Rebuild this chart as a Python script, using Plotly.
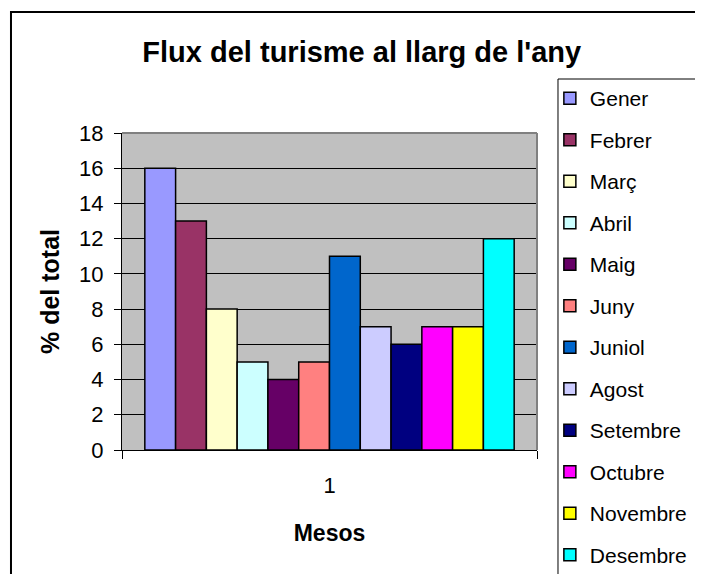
import plotly.graph_objects as go

months = ["Gener", "Febrer", "Març", "Abril", "Maig", "Juny", "Juniol",
          "Agost", "Setembre", "Octubre", "Novembre", "Desembre"]
values = [16, 13, 8, 5, 4, 5, 11, 7, 6, 7, 7, 12]
colors = ["#9999FF", "#993366", "#FFFFCC", "#CCFFFF", "#660066", "#FF8080",
          "#0066CC", "#CCCCFF", "#000080", "#FF00FF", "#FFFF00", "#00FFFF"]
category = ["1"]
y_ticks = list(range(0, 19, 2))

FONT = "Liberation Sans, Arial, sans-serif"

fig = go.Figure()
for m, v, c in zip(months, values, colors):
    fig.add_trace(go.Bar(
        x=category, y=[v], name=m, legendgroup=m,
        marker=dict(color=c, line=dict(color="black", width=1.5)),
    ))

fig.update_layout(
    width=695, height=566,
    margin=dict(l=114, r=166, t=125, b=124, autoexpand=False),
    paper_bgcolor="white",
    plot_bgcolor="#C0C0C0",
    barmode="group",
    bargap=0.11,
    bargroupgap=0,
    font=dict(family=FONT, color="black", size=22),
    title=dict(text="<b>Flux del turisme al llarg de l'any</b>",
               x=0.509, xanchor="center", y=0.922, yanchor="middle",
               font=dict(family=FONT, size=29, color="black")),
    legend=dict(x=1.031, xanchor="left", y=1.1735, yanchor="top",
                borderwidth=0, bgcolor="rgba(0,0,0,0)",
                font=dict(family=FONT, size=21, color="black"),
                tracegroupgap=11.2, itemwidth=30, maxheight=700),
    showlegend=True,
    xaxis=dict(type="category", tickson="boundaries", ticks="outside",
               ticklen=8, tickcolor="black", showline=True, linecolor="black",
               linewidth=1, showgrid=False, ticklabelstandoff=16,
               tickfont=dict(size=22),
               title=dict(text="<b>Mesos</b>", standoff=27,
                          font=dict(family=FONT, size=23))),
    yaxis=dict(range=[0, 18], tickvals=y_ticks, ticks="outside", ticklen=7,
               tickcolor="black", showline=True, linecolor="black",
               linewidth=1, showgrid=True, gridcolor="black", gridwidth=1,
               zeroline=False, ticklabelstandoff=6,
               tickfont=dict(size=22),
               title=dict(text="<b>% del total</b>", standoff=12,
                          font=dict(family=FONT, size=25))),
    shapes=[
        dict(type="line", xref="paper", yref="paper", x0=0, x1=1, y0=1, y1=1,
             line=dict(color="#808080", width=2), layer="above"),
        dict(type="line", xref="paper", yref="paper", x0=1, x1=1, y0=0, y1=1,
             line=dict(color="#808080", width=2), layer="above"),
        # legend frame (extends past the page edge like the original)
        dict(type="rect", xref="paper", yref="paper",
             x0=1.0506, x1=1.7, y0=-0.6, y1=1.1703,
             line=dict(color="black", width=1), layer="above"),
        # outer chart border
        dict(type="rect", xref="paper", yref="paper",
             x0=-0.2675, x1=1.6, y0=-0.5, y1=1.3817,
             line=dict(color="black", width=2), layer="above"),
    ],
)

fig.write_html("out.html")
